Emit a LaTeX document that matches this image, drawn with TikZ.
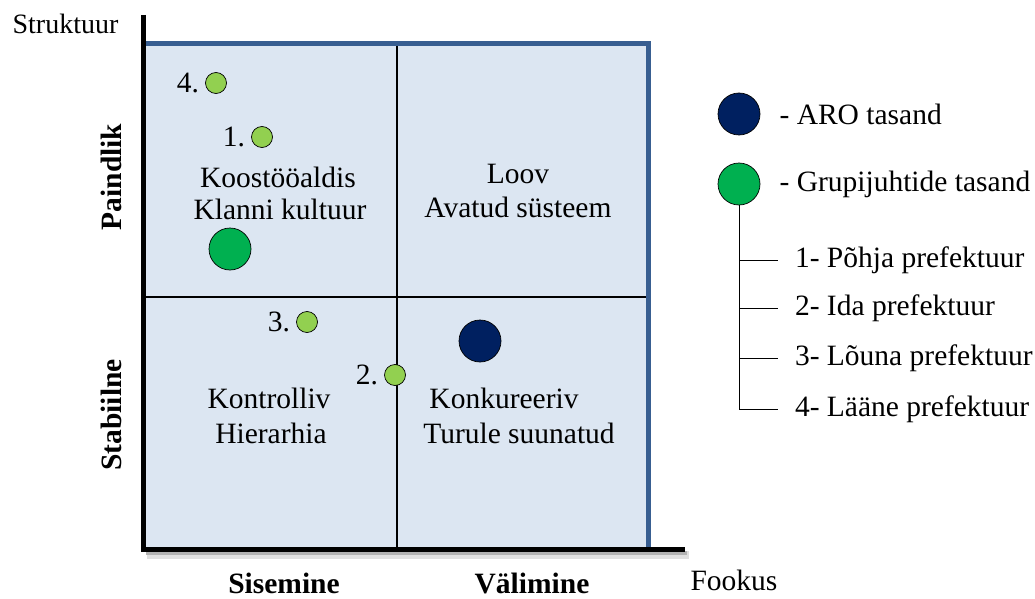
\documentclass[tikz,border=0pt]{standalone}
\usepackage{fontspec}
\setmainfont{Liberation Serif}
\usetikzlibrary{positioning}
\definecolor{quadfill}{RGB}{220,230,242}
\definecolor{frameblue}{RGB}{56,94,145}
\definecolor{arodark}{RGB}{0,32,96}
\definecolor{groupgreen}{RGB}{0,176,80}
\definecolor{prefgreen}{RGB}{146,208,80}
\newcommand\diagfont{\fontsize{29.5}{34}\selectfont}
\begin{document}
\begin{tikzpicture}[x=1pt,y=-1pt,line join=miter,
  lbl/.style={font=\diagfont,inner sep=0pt,anchor=base},
  axlbl/.style={font=\bfseries\diagfont,inner sep=0pt,anchor=base},
  numlbl/.style={font=\diagfont,inner sep=0pt},
  legitem/.style={font=\diagfont,inner sep=0pt,outer xsep=17pt,anchor=west},
  bigdot/.style={circle,draw=black,line width=0.7pt,minimum size=42pt,inner sep=0pt},
  smalldot/.style={circle,draw=black,line width=0.7pt,fill=prefgreen,minimum size=21pt,inner sep=0pt}]
  \useasboundingbox (0,0) rectangle (1035,599);
  \coordinate (O) at (143.5,549.5);
  \coordinate (Ytop) at (143.5,15);
  \coordinate (Xend) at (685,549.5);
  % quadrants
  \fill[quadfill] (143.5,44) rectangle (648.5,549.5);
  \draw[line width=1.3pt] (397,44) -- (397,549.5);
  \draw[line width=1.3pt] (143.5,297) -- (648.5,297);
  \draw[frameblue,line width=5pt] (143.5,44) -- (648.5,44) -- (648.5,549.5);
  % axes with shadow
  \draw[black!12,line width=8pt] (147,555) -- (689,555);
  \draw[black!30,line width=4pt] (146,553) -- (687,553);
  \draw[line width=5pt] (Ytop) -- (O) -- (Xend);
  \node[lbl,font=\fontsize{28}{33}\selectfont] (struct) at (65.5,34) {Struktuur};
  \node[lbl] (fookus) at (734,590) {Fookus};
  \node[axlbl] (sis) at (284,593) {Sisemine};
  \node[axlbl] (val) at (532,593) {Välimine};
  \node[axlbl,rotate=90] (paind) at (121,177) {Paindlik};
  \node[axlbl,rotate=90] (stab) at (121,415) {Stabiilne};
  % quadrant texts
  \node[lbl] (q1a) at (278,187) {Koostööaldis};
  \node[lbl] (q1b) at (280,219) {Klanni kultuur};
  \node[lbl] (q2a) at (518,183) {Loov};
  \node[lbl] (q2b) at (518,217) {Avatud süsteem};
  \node[lbl] (q3a) at (269,408) {Kontrolliv};
  \node[lbl] (q3b) at (271,443) {Hierarhia};
  \node[lbl] (q4a) at (504,408) {Konkureeriv};
  \node[lbl] (q4b) at (519,443) {Turule suunatud};
  % points
  \node[smalldot] (d4) at (216,83) {};
  \node[smalldot] (d1) at (262,137) {};
  \node[smalldot] (d3) at (307,322) {};
  \node[smalldot] (d2) at (395,375) {};
  \node[numlbl,left=6pt of d4] (n4) {4.};
  \node[numlbl,left=6pt of d1] (n1) {1.};
  \node[numlbl,left=6pt of d3] (n3) {3.};
  \node[numlbl,left=6pt of d2] (n2) {2.};
  \node[bigdot,fill=groupgreen] (grp) at (230,249) {};
  \node[bigdot,fill=arodark] (aro) at (480,341) {};
  % legend
  \node[bigdot,fill=arodark] (legaro) at (739,114) {};
  \node[numlbl,right=19pt of legaro] (legarotxt) {- ARO tasand};
  \node[bigdot,fill=groupgreen] (leggrp) at (739,184) {};
  \node[numlbl,right=19pt of leggrp] (leggrptxt) {- Grupijuhtide tasand};
  \node[legitem] (p1) at (778,260) {1- Põhja prefektuur};
  \node[legitem] (p2) at (778,308) {2- Ida prefektuur};
  \node[legitem] (p3) at (778,358) {3- Lõuna prefektuur};
  \node[legitem] (p4) at (778,409) {4- Lääne prefektuur};
  \draw[line width=1pt] (leggrp.south) -- (leggrp.south |- p4.west);
  \foreach \p in {p1,p2,p3,p4}
    \draw[line width=1pt] (leggrp.south |- \p.west) -- (\p.west);
\end{tikzpicture}
\end{document}
